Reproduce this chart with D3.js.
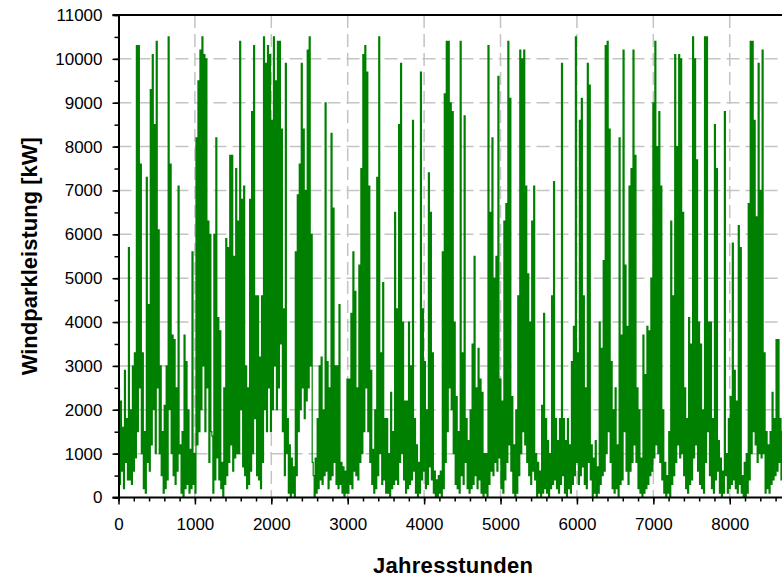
<!DOCTYPE html>
<html>
<head>
<meta charset="utf-8">
<script src="https://cdn.jsdelivr.net/npm/d3@7"></script>
<style>
    body { margin: 0; background: #fff; }
    svg { display: block; overflow: hidden; }
    text { font-family: "Liberation Sans", Arial, sans-serif; fill: #000; }
</style>
</head>
<body>
<div id="windpark"></div>
<script>

// Windparkleistung in 1000 kW, one value every 13 Jahresstunden (peak / dip pairs)
const hourStep = 13;
const leistungTsd = [
    2.5,0.3,2.2,0.6,1.6,0.2,2.9,0.8,1.8,0.4,
    5.7,0.4,2.0,0.3,3.0,0.6,3.3,0.9,10.3,1.5,
    10.3,2.5,7.6,1.0,3.3,0.2,1.5,0.1,7.3,0.8,
    4.4,0.6,9.3,1.2,10.1,2.0,8.5,1.0,10.4,2.5,
    6.1,1.0,3.0,0.5,1.5,0.1,2.1,0.2,3.0,0.4,
    10.5,2.0,7.6,1.0,3.7,0.5,3.6,0.3,2.5,0.6,
    7.1,1.0,1.2,0.1,1.5,0.0,3.7,0.2,3.1,0.3,
    2.0,0.1,1.1,0.2,5.6,0.3,1.0,0.1,8.2,1.2,
    9.5,1.5,10.2,2.0,10.5,3.0,10.1,1.5,10.0,2.5,
    6.3,0.8,6.0,1.5,1.4,0.1,6.0,0.4,8.2,0.9,
    4.1,0.4,3.8,0.2,0.8,0.0,2.5,0.3,5.9,0.5,
    5.7,0.8,7.8,1.2,7.8,0.6,5.5,0.9,7.5,1.0,
    6.3,1.0,10.4,2.0,6.8,0.7,7.1,0.5,3.0,0.2,
    2.5,0.3,6.8,0.6,8.8,1.0,10.3,1.8,4.6,0.5,
    4.6,0.4,3.2,0.2,4.6,0.8,10.5,2.0,9.9,1.5,
    10.3,2.5,10.1,1.5,8.6,2.0,10.5,3.0,9.5,2.0,
    10.4,2.5,10.4,3.5,8.4,1.5,4.3,0.5,9.9,1.0,
    1.8,0.1,1.2,0.0,0.9,0.1,0.7,0.0,5.6,0.5,
    6.9,1.5,7.6,2.0,9.9,2.5,8.4,1.8,7.0,2.2,
    10.2,2.5,10.5,3.0,6.0,0.8,0.5,0.0,0.9,0.1,
    1.8,0.2,3.0,0.4,3.2,0.3,2.0,0.5,9.0,0.6,
    3.1,0.2,2.5,0.4,8.3,0.5,6.6,0.8,3.0,0.3,
    3.0,0.2,4.4,0.3,0.8,0.1,0.7,0.0,0.6,0.1,
    2.7,0.1,2.7,0.3,4.2,0.2,5.6,0.6,4.7,0.5,
    2.5,0.4,5.3,0.8,7.5,1.0,10.1,1.5,10.3,2.5,
    9.7,1.5,7.1,0.8,2.9,0.3,1.1,0.1,2.0,0.2,
    7.3,0.5,10.5,1.0,3.3,0.3,4.9,0.4,1.8,0.1,
    1.8,0.1,1.0,0.0,2.4,0.2,1.5,0.3,6.5,0.4,
    4.3,0.3,8.5,0.8,9.9,1.0,4.0,0.4,2.2,0.1,
    2.2,0.2,4.0,0.3,3.0,0.4,8.6,0.6,1.8,0.1,
    1.2,0.0,0.8,0.1,9.7,0.4,4.3,0.6,3.1,0.2,
    2.0,0.3,7.4,0.7,6.5,0.4,3.3,0.1,0.6,0.0,
    0.4,0.0,0.5,0.1,0.6,0.0,5.6,0.2,9.2,0.8,
    10.4,1.5,10.4,2.5,9.0,2.0,8.8,1.0,4.0,0.3,
    2.3,0.2,1.5,0.1,10.4,0.5,3.3,0.3,8.7,0.8,
    1.8,0.2,1.3,0.1,2.0,0.2,3.5,0.3,5.5,0.5,
    2.5,0.2,3.4,0.4,2.7,0.1,2.4,0.0,1.0,0.1,
    1.0,0.0,10.3,0.3,6.5,0.6,8.2,0.5,5.0,0.8,
    5.5,0.6,9.6,0.9,2.7,0.2,2.2,0.1,6.3,0.4,
    6.7,0.8,10.4,1.2,9.1,0.6,2.3,0.1,1.2,0.0,
    2.0,0.1,4.6,0.5,10.2,1.0,10.0,1.5,10.2,1.2,
    7.1,0.8,5.1,0.5,4.0,0.3,6.3,0.6,7.1,0.4,
    1.0,0.0,0.8,0.1,0.6,0.0,2.1,0.1,4.2,0.2,
    1.8,0.1,1.3,0.0,1.0,0.2,4.6,0.3,7.2,0.4,
    1.8,0.2,1.3,0.1,1.8,0.3,9.9,0.5,1.8,0.1,
    1.3,0.0,1.8,0.2,1.2,0.1,3.1,0.3,3.9,0.5,
    10.5,0.8,3.3,0.3,8.6,0.5,9.1,0.7,4.6,0.3,
    2.5,0.2,9.9,0.8,9.4,0.4,1.2,0.0,0.9,0.1,
    1.3,0.0,0.7,0.1,4.0,0.3,3.4,0.5,5.4,0.6,
    10.3,1.0,10.4,1.5,8.4,0.8,3.1,0.2,2.0,0.1,
    2.5,0.2,1.2,0.0,8.2,0.3,3.7,0.4,10.2,1.5,
    5.3,0.6,3.9,0.3,7.1,0.6,7.5,0.8,10.2,1.2,
    7.8,0.8,2.5,0.2,2.0,0.1,0.9,0.0,3.7,0.1,
    2.8,0.2,3.9,0.3,3.8,0.5,5.0,0.6,9.0,0.9,
    10.4,1.2,8.0,1.0,8.8,0.8,7.1,0.4,2.0,0.1,
    0.8,0.0,0.5,0.1,1.5,0.0,6.3,0.3,4.6,0.5,
    10.1,0.8,8.0,1.2,10.1,0.9,10.0,1.0,6.5,0.5,
    2.5,0.2,1.8,0.1,4.1,0.3,3.5,0.4,10.5,0.9,
    10.0,1.2,7.7,0.6,4.0,0.3,3.5,0.2,2.0,0.1,
    10.5,0.8,10.5,1.5,4.0,0.5,4.0,0.2,1.8,0.1,
    8.5,0.4,7.5,0.6,1.3,0.1,0.9,0.0,0.6,0.1,
    8.8,0.5,1.0,0.1,1.8,0.2,2.3,0.3,5.8,0.4,
    2.9,0.2,2.2,0.1,6.2,0.3,5.7,0.1,0.5,0.0,
    0.8,0.0,1.0,0.1,6.7,0.4,10.4,1.0,10.4,1.5,
    8.6,1.2,6.4,0.8,9.9,1.0,7.0,0.9,10.2,1.0,
    3.3,0.1,1.5,0.2,1.2,0.1,1.5,0.3,2.4,0.4,
    1.8,0.5,3.6,0.6,3.6,0.8,1.8,0.4,1.5,0.3,
    2.0,0.5,1.7,0.6
];

const xTicks = [0, 1000, 2000, 3000, 4000, 5000, 6000, 7000, 8000];
const xMinorTicks = d3.range(0, 8761, 200);
const yTicks = [0, 1000, 2000, 3000, 4000, 5000, 6000, 7000, 8000, 9000, 10000, 11000];
const yMinorTicks = d3.range(0, 11001, 500);

const xDomain = [0, 8760];
const yDomain = [0, 11000];

let margin = {top: 15, left: 118.5},
    width = 669.3,
    height = 482.5;

let svg = d3.select("#windpark").append("svg")
    .attr("width", 782)
    .attr("height", 579);

let g = svg.append("g").attr("transform", "translate(" + margin.left + "," + margin.top + ")");

let xScale = d3.scaleLinear().domain(xDomain).range([0, width]);
let yScale = d3.scaleLinear().domain(yDomain).range([height, 0]);

//dashed grid
g.append("g").selectAll("line")
    .data(yTicks.filter(d => d > 0 && d < 11000))
    .enter().append("line")
    .attr("x1", 0).attr("x2", width)
    .attr("y1", d => yScale(d)).attr("y2", d => yScale(d))
    .attr("stroke", "#c4c4c4").attr("stroke-width", 1.5)
    .attr("stroke-dasharray", "13,6");

g.append("g").selectAll("line")
    .data(xTicks.filter(d => d > 0))
    .enter().append("line")
    .attr("x1", d => xScale(d)).attr("x2", d => xScale(d))
    .attr("y1", 0).attr("y2", height)
    .attr("stroke", "#c4c4c4").attr("stroke-width", 1.5)
    .attr("stroke-dasharray", "13,6");

//the series, hourly swings are steep so each value is drawn as a step
let line = d3.line()
    .curve(d3.curveStepAfter)
    .x((d, i) => xScale(i * hourStep))
    .y(d => yScale(d * 1000));

g.append("path")
    .datum(leistungTsd)
    .attr("fill", "none")
    .attr("stroke", "#008000")
    .attr("stroke-width", 1.2)
    .attr("d", line);

//top frame line
g.append("line")
    .attr("x1", -6).attr("x2", width)
    .attr("y1", 0).attr("y2", 0)
    .attr("stroke", "#000").attr("stroke-width", 2);

//minor ticks
g.append("g")
    .call(d3.axisLeft(yScale).tickValues(yMinorTicks).tickSize(4).tickFormat(""))
    .call(a => a.select(".domain").remove())
    .selectAll("line").attr("stroke-width", 1.5);

g.append("g")
    .attr("transform", "translate(0," + height + ")")
    .call(d3.axisBottom(xScale).tickValues(xMinorTicks).tickSize(4).tickFormat(""))
    .call(a => a.select(".domain").remove())
    .selectAll("line").attr("stroke-width", 1.5);

//Add the y Axis
let yAxis = g.append("g")
    .call(d3.axisLeft(yScale).tickValues(yTicks).tickSize(6).tickSizeOuter(0).tickPadding(10).tickFormat(d3.format("d")));
yAxis.select(".domain").attr("stroke-width", 2);
yAxis.selectAll(".tick line").attr("stroke-width", 1.5);
yAxis.selectAll("text").style("font-size", "17px").style("font-family", "'Liberation Sans', Arial, sans-serif");

//Add the x Axis
let xAxis = g.append("g")
    .attr("transform", "translate(0," + height + ")")
    .call(d3.axisBottom(xScale).tickValues(xTicks).tickSize(7).tickSizeOuter(0).tickPadding(13).tickFormat(d3.format("d")));
xAxis.select(".domain").attr("stroke-width", 2).attr("d", "M-6,0H" + width);
xAxis.selectAll(".tick line").attr("stroke-width", 1.5);
xAxis.selectAll("text").style("font-size", "17px").style("font-family", "'Liberation Sans', Arial, sans-serif");

svg.append("text")
    .attr("transform", "translate(37," + (margin.top + height / 2) + ") rotate(-90)")
    .attr("text-anchor", "middle")
    .style("font-size", "22px")
    .style("font-weight", "bold")
    .text("Windparkleistung [kW]");

svg.append("text")
    .attr("x", margin.left + width / 2)
    .attr("y", 573)
    .attr("text-anchor", "middle")
    .style("font-size", "22px")
    .style("font-weight", "bold")
    .style("letter-spacing", "0.3px")
    .text("Jahresstunden");

</script>
</body>
</html>
